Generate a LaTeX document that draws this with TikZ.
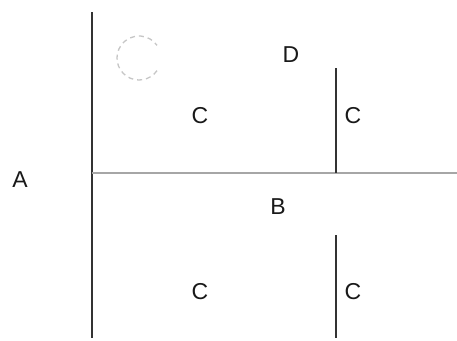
\documentclass[tikz,border=0pt]{standalone}
\usepackage{fontspec}
\setmainfont{Liberation Sans}
\begin{document}
\begin{tikzpicture}[
    x=1pt, y=-1pt,
    font=\fontsize{23}{25}\selectfont,
    buchst/.style={inner sep=0pt, text=black!90},
    linie/.style={line width=1.3pt, black!80},
    grundlinie/.style={line width=1.3pt, gray!70}
  ]
    \useasboundingbox[fill=white] (0,0) rectangle (457,340);
    % Achsen
    \coordinate (oben) at (92,12);
    \coordinate (unten) at (92,338);
    \coordinate (links) at (92,173);
    \coordinate (rechts) at (457,173);
    \coordinate (teil1o) at (336,68);
    \coordinate (teil1u) at (336,173);
    \coordinate (teil2o) at (336,235);
    \coordinate (teil2u) at (336,338);
    \draw[linie] (oben) -- (unten);
    \draw[grundlinie] (links) -- (rechts);
    \draw[linie] (teil1o) -- (teil1u);
    \draw[linie] (teil2o) -- (teil2u);
    % Beschriftungen
    \node[buchst] (a) at (20,180) {A};
    \node[buchst] (b) at (278,207) {B};
    \node[buchst] (d) at (291,55) {D};
    \node[buchst] (c1) at (200,116) {C};
    \node[buchst] (c2) at (353,116) {C};
    \node[buchst] (c3) at (200,292) {C};
    \node[buchst] (c4) at (353,292) {C};
    % angedeuteter Kreis
    \draw[gray!45, line width=1.3pt, dash pattern=on 5pt off 4pt] (139,58) ++(35:22) arc[start angle=35, end angle=325, radius=22];
\end{tikzpicture}
\end{document}
